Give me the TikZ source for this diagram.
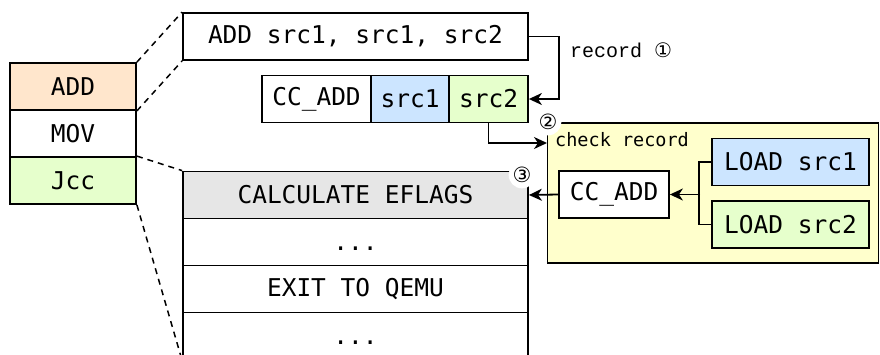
\documentclass[tikz,border=0pt]{standalone}
\usepackage{fontspec}
\setmonofont{DejaVu Sans Mono}
\newfontfamily\libmono{Liberation Mono}
\newfontfamily\djsans{DejaVu Sans}
\usetikzlibrary{arrows.meta}
\definecolor{corange}{HTML}{FFE6CC}
\definecolor{cgreen}{HTML}{E6FFCC}
\definecolor{cblue}{HTML}{CCE5FF}
\definecolor{cyellow}{HTML}{FFFFCC}
\definecolor{cgray}{HTML}{E6E6E6}
\tikzset{
  box/.style={draw, line width=1.8pt, rectangle, inner sep=0pt, minimum height=47pt,
    font=\ttfamily\fontsize{24.5}{28}\selectfont},
  arr/.style={line width=1.8pt, -{Stealth[length=13pt,width=12pt,inset=4pt]}},
  ln/.style={line width=1.8pt},
  dsh/.style={line width=1.5pt, dash pattern=on 6pt off 5pt},
  num/.style={circle, fill=white, inner sep=0.8pt, font=\djsans\fontsize{21}{22}\selectfont},
}
\begin{document}
\begin{tikzpicture}[x=1pt,y=-1pt]
\clip (0,0) rectangle (880,354);
\fill[white] (0,0) rectangle (880,354);
% left stack
\node[box, fill=corange, minimum width=126pt] (lADD) at (73,86.5) {ADD};
\node[box, fill=white, minimum width=126pt] (lMOV) at (73,133.5) {MOV};
\node[box, fill=cgreen, minimum width=126pt] (lJcc) at (73,180.5) {Jcc};
% top instruction
\node[box, minimum width=345pt] (top) at (355.5,36.5) {ADD src1, src1, src2};
% record row
\node[box, fill=white, minimum width=109pt] (cc) at (316.5,99) {CC\_ADD};
\node[box, fill=cblue, minimum width=78pt] (s1) at (410,99) {src1};
\node[box, fill=cgreen, minimum width=79pt] (s2) at (488.5,99) {src2};
% lower stack
\node[box, fill=cgray, minimum width=345pt] (r1) at (355.5,195) {CALCULATE EFLAGS};
\node[box, minimum width=345pt] (r2) at (355.5,242) {\vphantom{A}...};
\node[box, minimum width=345pt] (r3) at (355.5,289) {EXIT TO QEMU};
\node[box, minimum width=345pt] (r4) at (355.5,336) {\vphantom{A}...};
% yellow check box
\node[draw, line width=1.8pt, fill=cyellow, minimum width=331pt, minimum height=140pt, inner sep=0pt] (yel) at (713,193) {};
\node[anchor=west, inner sep=0pt, font=\ttfamily\fontsize{18.5}{20}\selectfont] (chk) at (555,140) {check record};
\node[box, fill=white, minimum width=110pt] (icc) at (614,194.5) {CC\_ADD};
\node[box, fill=cblue, minimum width=157pt] (L1) at (790.5,162) {LOAD src1};
\node[box, fill=cgreen, minimum width=157pt] (L2) at (790.5,224.5) {LOAD src2};
% dashed zoom lines
\draw[dsh] (lADD.north east) -- (top.north west);
\draw[dsh] (lADD.south east) -- (top.south west);
\draw[dsh] (lJcc.north east) -- (r1.north west);
\draw[dsh] (lJcc.south east) -- (r4.south west);
% record arrow
\draw[arr] (top.east) -- ++(30,0) |- (s2.east);
\node[anchor=west, inner sep=0pt, font=\libmono\fontsize{20}{22}\selectfont] (rec) at (570,50) {record {\djsans\fontsize{20}{22}\selectfont ①}};
% check arrow
\coordinate (p2) at (547,143);
\draw[arr] (s2.south) |- (p2);
\node[num] (n2) at (548,122) {②};
% load connectors
\coordinate (jn) at (700,194.5);
\draw[ln] (L1.west) -- ++(-12,0) |- (L2.west);
\draw[arr] (jn) -- (icc.east);
\draw[arr] (icc.west) -- (r1.east);
\node[num] (n3) at (522,175) {③};
\end{tikzpicture}
\end{document}
